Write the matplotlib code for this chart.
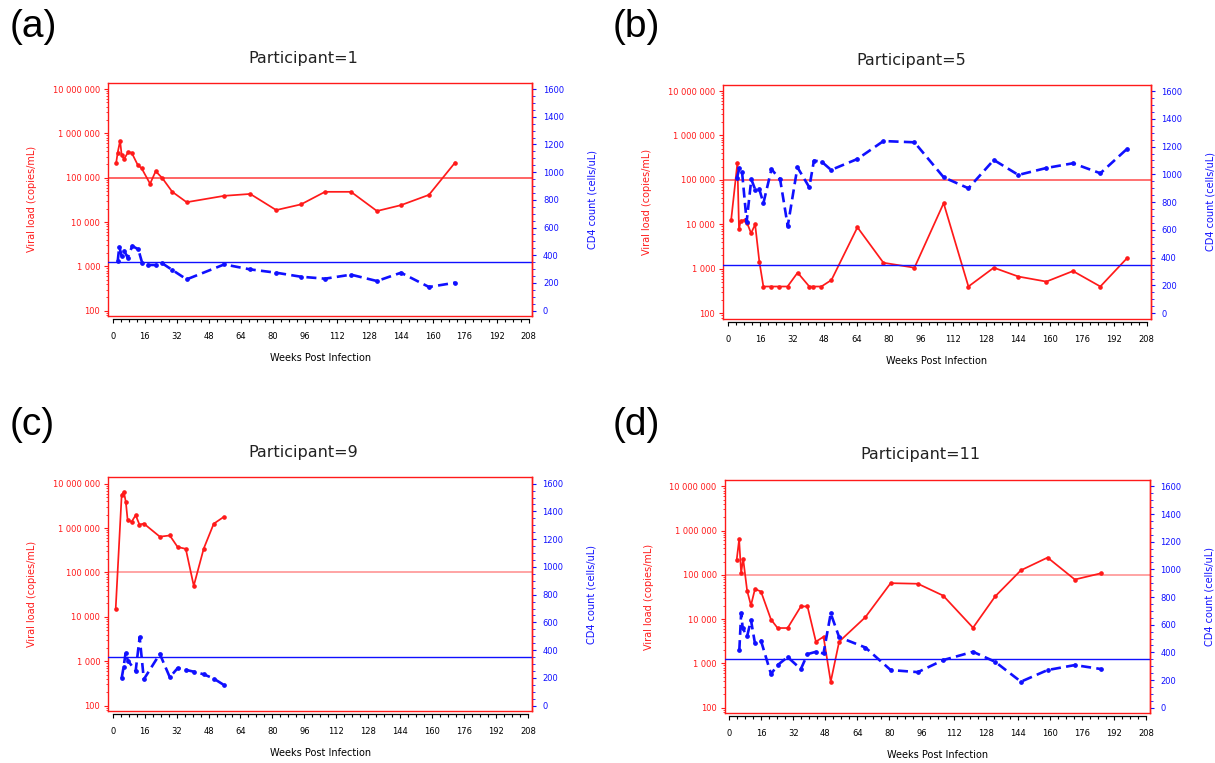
import matplotlib
matplotlib.use("Agg")
import matplotlib.pyplot as plt
from matplotlib.ticker import LogLocator, MultipleLocator, FuncFormatter, NullFormatter, FixedLocator

# ---------------- data ----------------
participants = ["1", "5", "9", "11"]
panel_letters = ["(a)", "(b)", "(c)", "(d)"]

weeks_a_vl = [1.7, 2.5, 3.7, 4.5, 5.7, 7.8, 9.5, 12.5, 14.5, 18.7, 21.5, 24.8, 29.8, 37.0,
              55.8, 68.8, 81.8, 94.2, 106.2, 119.2, 132.2, 144.2, 158.2, 171.3]
vl_a = [210000, 370000, 680000, 320000, 265000, 380000, 365000, 195000, 162000, 73000,
        140000, 98000, 48000, 28000, 39000, 43000, 18600, 25000, 48000, 48000, 17700,
        24000, 41000, 220000]
weeks_a_cd4 = [2.5, 3.3, 4.5, 5.8, 7.5, 9.8, 12.8, 14.8, 17.8, 21.5, 24.8, 29.8, 37.0,
               55.8, 68.8, 81.8, 94.2, 106.2, 119.2, 132.2, 144.2, 158.2, 171.3]
cd4_a = [356, 462, 395, 431, 382, 467, 443, 342, 330, 330, 342, 294, 226, 334, 298, 274,
         245, 231, 260, 214, 274, 171, 202]

weeks_b_vl = [1.7, 4.8, 5.6, 6.4, 8.6, 9.7, 11.6, 13.6, 15.7, 17.7, 21.7, 25.7, 29.7, 34.7,
              40.5, 42.5, 46.5, 51.5, 64.4, 77.3, 92.7, 107.2, 119.5, 132.1, 144.3, 158.2,
              171.4, 185.0, 198.2]
vl_b = [12600, 240000, 7700, 12000, 12600, 10500, 6300, 10000, 1450, 400, 400, 400, 400,
        820, 400, 400, 400, 560, 8600, 1370, 1060, 30000, 400, 1060, 670, 516, 890, 400, 1730]
weeks_b_cd4 = [4.5, 5.8, 7.1, 9.4, 11.7, 13.7, 15.7, 17.7, 21.7, 26.0, 29.8, 34.6, 40.5,
               42.8, 46.6, 51.3, 64.4, 77.3, 92.7, 107.2, 119.5, 132.1, 144.3, 158.2, 171.4,
               185.0, 198.2]
cd4_b = [972, 1044, 1019, 660, 965, 888, 893, 792, 1037, 965, 628, 1051, 907, 1099, 1092,
         1032, 1111, 1240, 1231, 979, 900, 1104, 996, 1046, 1080, 1008, 1183]

weeks_c_vl = [1.5, 4.5, 5.6, 6.6, 7.5, 9.5, 11.5, 13.4, 15.6, 23.6, 28.6, 32.5, 36.6, 40.6,
              45.6, 50.6, 55.6]
vl_c = [15100, 5600000, 6500000, 3800000, 1480000, 1390000, 1950000, 1200000, 1260000,
        640000, 680000, 375000, 340000, 50000, 346000, 1250000, 1780000]
weeks_c_cd4 = [4.5, 5.5, 6.5, 7.6, 11.5, 13.5, 15.6, 23.6, 28.6, 32.5, 36.6, 40.6, 45.6,
               50.6, 55.6]
cd4_c = [198, 282, 383, 325, 250, 493, 190, 373, 205, 270, 258, 245, 226, 195, 150]

weeks_d_vl = [3.8, 5.0, 6.0, 7.0, 9.0, 10.9, 12.9, 15.9, 20.9, 24.2, 29.2, 35.8, 39.1, 43.3,
              47.1, 50.7, 54.9, 68.0, 80.6, 94.2, 106.8, 121.7, 132.7, 145.6, 158.9, 172.5,
              185.7]
vl_d = [222000, 630000, 110000, 233000, 43500, 20500, 48000, 42000, 9800, 6300, 6300, 19400,
        19400, 3100, 4000, 385, 3100, 11100, 65000, 63000, 34000, 6400, 32500, 127000,
        246000, 78500, 109000]
weeks_d_cd4 = [5.1, 6.0, 6.8, 9.0, 10.9, 12.9, 15.9, 20.9, 24.2, 29.2, 35.8, 39.1, 43.3,
               47.1, 50.7, 54.9, 68.0, 80.6, 94.2, 106.8, 121.7, 132.7, 145.6, 158.9, 172.5,
               185.7]
cd4_d = [416, 681, 573, 517, 633, 465, 484, 243, 308, 366, 279, 387, 404, 392, 681, 510, 435,
         272, 257, 344, 404, 332, 188, 272, 308, 279]

vl_threshold = 100000
cd4_threshold = 350
week_ticks = list(range(0, 209, 16))
vl_ticks = [100, 1000, 10000, 100000, 1000000, 10000000]
cd4_ticks = list(range(0, 1601, 200))

panels = [
    (weeks_a_vl, vl_a, weeks_a_cd4, cd4_a),
    (weeks_b_vl, vl_b, weeks_b_cd4, cd4_b),
    (weeks_c_vl, vl_c, weeks_c_cd4, cd4_c),
    (weeks_d_vl, vl_d, weeks_d_cd4, cd4_d),
]

# ---------------- layout (pixels) ----------------
W, H = 1215, 763
boxes = [(108.3, 532.5, 82.7, 316.0),
         (723.3, 1150.7, 84.7, 318.6),
         (108.3, 532.0, 477.3, 711.0),
         (724.7, 1150.0, 480.0, 713.0)]
letter_pos = [(10, 27), (613, 27), (10, 425), (613, 425)]
title_pos = [(303, 58), (911, 60), (303, 452), (920, 455)]
thr_colors = ["#ff3a3a", "#ff4a4a", "#ff8c8c", "#ff8c8c"]

RED = "#ff1a1a"
BLUE = "#1010ff"

fig = plt.figure(figsize=(W / 100, H / 100), dpi=100)
fig.patch.set_facecolor("white")

def fx(x):
    return x / W

def fy(y):
    return 1 - y / H

log_lo, log_hi = 1.88, 7.143
thou = FuncFormatter(lambda v, p: f"{int(round(v)):,}".replace(",", " "))

for i, (wv, vl, wc, cd) in enumerate(panels):
    l, r, t, b = boxes[i]
    ax = fig.add_axes([fx(l), fy(b), (r - l) / W, (b - t) / H])
    ax2 = ax.twinx()
    ax.set_xlim(-2.2, 210)
    ax.set_yscale("log")
    ax.set_ylim(10 ** log_lo, 10 ** log_hi)
    ax2.set_ylim((log_lo - 2) * 320, (log_hi - 2) * 320)

    ax.axhline(vl_threshold, color=thr_colors[i], lw=1.1, zorder=1)
    ax2.axhline(cd4_threshold, color=BLUE, lw=1.0, zorder=1)

    ax.plot(wv, vl, color=RED, lw=1.25, marker="o", ms=2.3, zorder=3)
    ax2.plot(wc, cd, color=BLUE, lw=1.9, ls=(0, (3.8, 2.0)), marker="o", ms=2.4,
             dash_capstyle="butt", zorder=3)

    for s in ["top", "left", "right"]:
        ax.spines[s].set_color(RED)
        ax.spines[s].set_linewidth(1.0)
    for s in ["top", "left", "bottom"]:
        ax2.spines[s].set_visible(False)
    ax2.spines["right"].set_color(RED)
    ax2.spines["right"].set_linewidth(1.0)
    ax.spines["bottom"].set_position(("outward", 2.3))
    ax.spines["bottom"].set_bounds(0, 208)
    ax.spines["bottom"].set_color("black")
    ax.spines["bottom"].set_linewidth(0.9)
    ax.plot([0, 1], [0, 0], transform=ax.transAxes, color=RED, lw=1.0, clip_on=False, zorder=4)

    ax.xaxis.set_major_locator(FixedLocator(week_ticks))
    ax.xaxis.set_minor_locator(MultipleLocator(4))
    ax.tick_params(axis="x", which="major", direction="out", length=3.2, width=0.8,
                   color="black", labelsize=6, pad=6, labelcolor="black")
    ax.tick_params(axis="x", which="minor", direction="out", length=2.2, width=0.8, color="black")

    ax.yaxis.set_major_locator(FixedLocator(vl_ticks))
    ax.yaxis.set_major_formatter(thou)
    ax.yaxis.set_minor_locator(LogLocator(base=10, subs=range(2, 10), numticks=20))
    ax.yaxis.set_minor_formatter(NullFormatter())
    ax.tick_params(axis="y", which="major", direction="out", length=2.8, width=0.8,
                   color=RED, labelcolor=RED, labelsize=6, pad=3)
    ax.tick_params(axis="y", which="minor", direction="out", length=1.6, width=0.6, color=RED)

    ax2.yaxis.set_major_locator(FixedLocator(cd4_ticks))
    ax2.yaxis.set_minor_locator(MultipleLocator(50))
    ax2.tick_params(axis="y", which="major", direction="out", length=3.0, width=0.8,
                    color=BLUE, labelcolor=BLUE, labelsize=6, pad=4.5)
    ax2.tick_params(axis="y", which="minor", direction="out", length=1.8, width=0.6, color=BLUE)

    ax.set_facecolor("none")

    lx, ly = letter_pos[i]
    fig.text(fx(lx), fy(ly), panel_letters[i], fontsize=28, family="Liberation Sans",
             ha="left", va="center", color="black")
    tx, ty = title_pos[i]
    fig.text(fx(tx), fy(ty), f"Participant={participants[i]}", fontsize=11.5,
             ha="center", va="center", color="#222222")
    fig.text(fx((l + r) / 2), fy(b + 42), "Weeks Post Infection", fontsize=7,
             ha="center", va="center", color="black")
    fig.text(fx(l - 76), fy((t + b) / 2), "Viral load (copies/mL)", fontsize=7,
             rotation=90, ha="center", va="center", color=RED)
    fig.text(fx(r + 60), fy((t + b) / 2), "CD4 count (cells/uL)", fontsize=7,
             rotation=90, ha="center", va="center", color=BLUE)

fig.savefig("out.png", dpi=100)
